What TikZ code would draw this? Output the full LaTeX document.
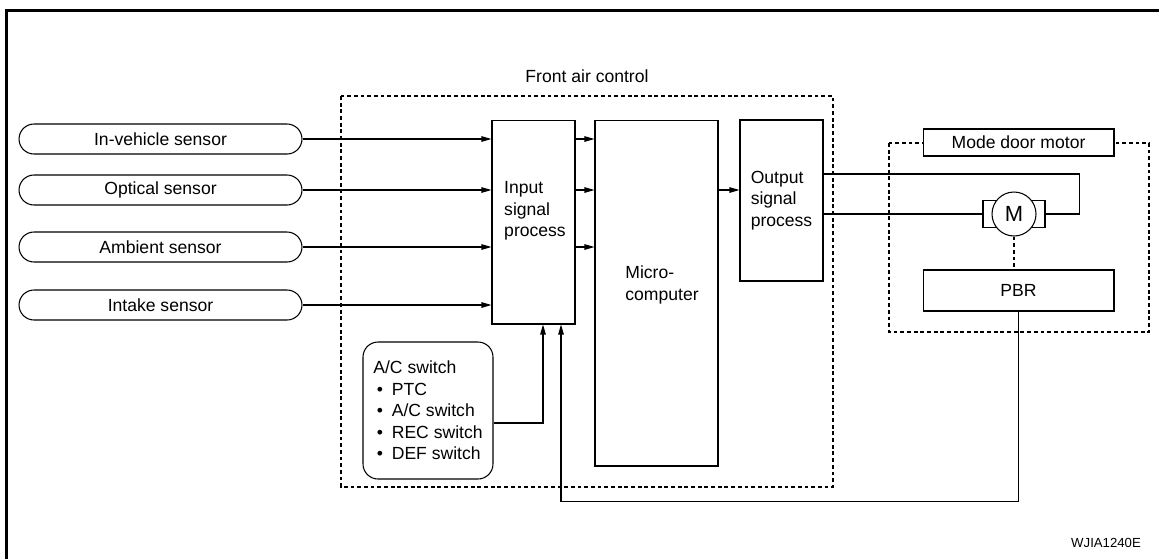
\documentclass[tikz,border=0pt]{standalone}
\usepackage{fontspec}
\setmainfont{Liberation Sans}
\usetikzlibrary{arrows.meta}

\newcommand{\bul}{\hspace{2pt}\makebox[0.85em][l]{\textbullet}}

\tikzset{
    box/.style={draw, line width=0.6pt, fill=white, inner sep=0pt},
    sensor/.style={box, rounded corners=0.3cm, minimum width=5.66cm, minimum height=0.6cm},
    dashbox/.style={draw, line width=0.6pt, dash pattern=on 2.2pt off 1.6pt},
    wire/.style={line width=0.6pt},
}

\begin{document}
\begin{tikzpicture}[x=0.02cm, y=-0.02cm, >={Triangle[length=2mm,width=1.1mm]}, font=\fontsize{10}{12.2}\selectfont]
    \useasboundingbox (0,0) rectangle (1159,559);
    % Cornice
    \draw[line width=1.7pt] (6.5,559) -- (6.5,10.5) -- (1159,10.5);

    % Riquadri tratteggiati
    \draw[dashbox] (341,96) rectangle (833,487);
    \node (front) at (587,76) {Front air control};
    \draw[dashbox] (889,143) rectangle (1149,332);

    % Sensori
    \node[sensor] (invehicle) at (160.5,139) {In-vehicle sensor};
    \node[sensor] (optical) at (160.5,190) {Optical sensor};
    \node[sensor] (ambient) at (160.5,247) {Ambient sensor};
    \node[sensor] (intake) at (160.5,305) {Intake sensor};

    % Centralina
    \node[box, minimum width=1.66cm, minimum height=4.08cm] (input) at (533.5,222) {};
    \node[align=left] (inputtxt) at (535,211) {Input\\signal\\process};
    \node[box, minimum width=2.46cm, minimum height=6.92cm] (micro) at (656.5,293) {};
    \node[align=left] (microtxt) at (662,285) {Micro-\\computer};
    \node[box, minimum width=1.66cm, minimum height=3.22cm, align=left] (output) at (781.5,200.5) {Output\\signal\\process};

    % Segnali
    \foreach \s in {invehicle, optical, ambient, intake}
        \draw[wire, ->] (\s.east) -- (\s.east -| input.west);
    \foreach \s in {invehicle, optical, ambient}
        \draw[wire, ->] (\s.east -| input.east) -- (\s.east -| micro.west);
    \draw[wire, ->] (optical.east -| micro.east) -- (optical.east -| output.west);

    % Interruttori
    \node[box, rounded corners=0.3cm, minimum width=2.6cm, minimum height=2.74cm, align=left] (acsw) at (428,410.5)
        {A/C switch\\\bul PTC\\\bul A/C switch\\\bul REC switch\\\bul DEF switch};
    \draw[wire, ->] ([yshift=-0.25cm]acsw.east) -| ([xshift=0.19cm]input.south);

    % Motore
    \node[box, minimum width=3.82cm, minimum height=0.54cm] (modedoor) at (1018.5,142.5) {Mode door motor};
    \node[box, minimum width=3.82cm, minimum height=0.82cm] (pbr) at (1018.5,290.5) {PBR};
    \node[box, minimum width=1.24cm, minimum height=0.54cm] (tabs) at (1014,214) {};
    \node[box, circle, minimum size=0.88cm, font=\fontsize{12.5}{14}\selectfont] (motor) at (tabs) {M};
    \draw[wire] ([yshift=0.53cm]output.east) -| ([xshift=0.68cm]tabs.east) -- (tabs.east);
    \draw[wire] (tabs.west -| output.east) -- (tabs.west);
    \draw[wire, dash pattern=on 2.2pt off 1.6pt] (motor.south) -- (motor.south |- pbr.north);
    \draw[wire, ->] (pbr.south) -- ++(0,190) -| ([xshift=0.55cm]input.south);

    \node[font=\fontsize{7.5}{9}\selectfont, anchor=east] (code) at (1147,543) {WJIA1240E};
\end{tikzpicture}
\end{document}
